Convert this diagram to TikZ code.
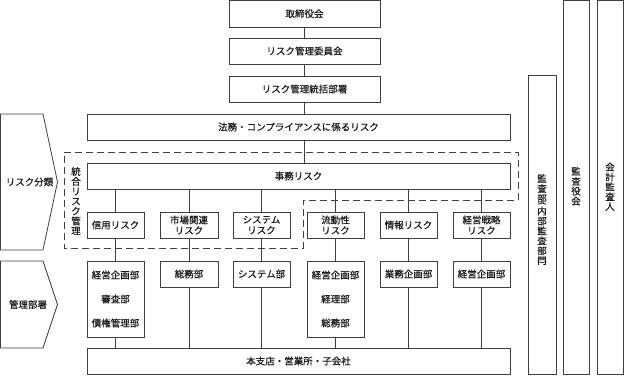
\documentclass[tikz,border=0pt]{standalone}
\usepackage{fontspec}
\newfontfamily\jp[FakeBold=0.5]{Noto Sans CJK JP}
\usetikzlibrary{calc}
\definecolor{ln}{HTML}{404040}
\definecolor{tx}{HTML}{1A1A1A}
\tikzset{
  box/.style={draw=ln, line width=0.8pt, fill=white, inner sep=0pt, align=center, text=tx},
  conn/.style={draw=ln, line width=0.8pt},
  riskbox/.style={box, minimum width=57pt, minimum height=26pt},
  vtext/.style={inner sep=0pt, align=center, text=tx, font=\jp\fontsize{9.5}{9.9}\selectfont},
  brk/.style={inner sep=0pt, text=tx, font=\jp\fontsize{8.5}{8.5}\selectfont},
}
\begin{document}
\begin{tikzpicture}[x=1pt, y=-1pt, font=\jp\fontsize{9.5}{12}\selectfont]
\useasboundingbox (0,0) rectangle (624,375);
% dashed integrated region
\draw[ln, line width=0.8pt, dash pattern=on 7pt off 4pt]
  (64,152) -- (518,152) -- (518,200) -- (303,200) -- (303,248) -- (64,248) -- cycle;
\node[vtext] (togo) at (76,201) {統\\合\\リ\\ス\\ク\\管\\理};
% top chain
\node[box, minimum width=151pt, minimum height=26.5pt] (tori) at (304.5,13.75) {取締役会};
\node[box, minimum width=151pt, minimum height=26pt] (iin) at (304.5,51) {リスク管理委員会};
\node[box, minimum width=151pt, minimum height=26pt] (tok) at (304.5,89) {リスク管理統括部署};
\node[box, minimum width=423pt, minimum height=26pt] (homu) at (298.5,127) {法務・コンプライアンスに係るリスク};
\node[box, minimum width=423pt, minimum height=26pt] (jimu) at (298.5,176) {事務リスク};
% risk row
\node[riskbox] (r1) at (115.5,225) {信用リスク};
\node[riskbox, minimum width=58pt] (r2) at (189,225) {市場関連\\[-1.5pt]リスク};
\node[riskbox] (r3) at (261.5,225) {システム\\[-1.5pt]リスク};
\node[riskbox] (r4) at (335.5,225) {流動性\\[-1.5pt]リスク};
\node[riskbox] (r5) at (408.5,225) {情報リスク};
\node[riskbox] (r6) at (481.5,225) {経営戦略\\[-1.5pt]リスク};
% departments row
\node[riskbox, minimum height=76pt] (d1) at (115.5,299) {経営企画部\\[12pt]審査部\\[12pt]債権管理部};
\node[riskbox, minimum width=58pt] (d2) at (189,274) {総務部};
\node[riskbox] (d3) at (261.5,274) {システム部};
\node[riskbox, minimum height=76pt] (d4) at (335.5,299) {経営企画部\\[12pt]経理部\\[12pt]総務部};
\node[riskbox] (d5) at (408.5,274) {業務企画部};
\node[riskbox] (d6) at (481.5,274) {経営企画部};
\node[box, minimum width=423pt, minimum height=26pt] (hon) at (298.5,361) {本支店・営業所・子会社};
% right tall boxes
\node[box, minimum width=28pt, minimum height=299pt] (kbu) at (542,224.5) {};
\node[vtext, anchor=north] (kbuA) at (542,174) {監\\査\\部};
\node[brk] (kbuB) at (542,204) {\rotatebox[origin=c]{-90}{(}};
\node[vtext, anchor=north] (kbuC) at (542,206.5) {内\\部\\監\\査\\部\\門};
\node[brk] (kbuD) at (542,263) {\rotatebox[origin=c]{-90}{)}};
\node[box, minimum width=26pt, minimum height=373.5pt] (kyaku) at (576,187.25) {};
\node[vtext] at ($(kyaku.center)+(0,-1)$) {監\\査\\役\\会};
\node[box, minimum width=26pt, minimum height=373.5pt] (kaikei) at (610,187.25) {};
\node[vtext] at ($(kaikei.center)+(0,-0.5)$) {会\\計\\監\\査\\人};
% left pentagons
\draw[ln, line width=0.8pt, fill=white] (0.5,114) -- (43,114) -- (57.5,182) -- (43,250) -- (0.5,250) -- cycle;
\node[text=tx] (bunrui) at (29.5,182) {リスク分類};
\draw[ln, line width=0.8pt, fill=white] (0.5,261) -- (43,261) -- (57.5,304.5) -- (43,348) -- (0.5,348) -- cycle;
\node[text=tx] (kanri) at (28,304.5) {管理部署};
% connectors
\draw[conn] (tori.south) -- (iin.north);
\draw[conn] (iin.south) -- (tok.north);
\draw[conn] (tok.south) -- (tok.south |- homu.north);
\draw[conn] (tok.south |- homu.south) -- (tok.south |- jimu.north);
\foreach \i in {1,...,6}{
  \draw[conn] (r\i.north |- jimu.south) -- (r\i.north);
  \draw[conn] (r\i.south) -- (d\i.north);
  \draw[conn] (d\i.south) -- (d\i.south |- hon.north);
}
\end{tikzpicture}
\end{document}
